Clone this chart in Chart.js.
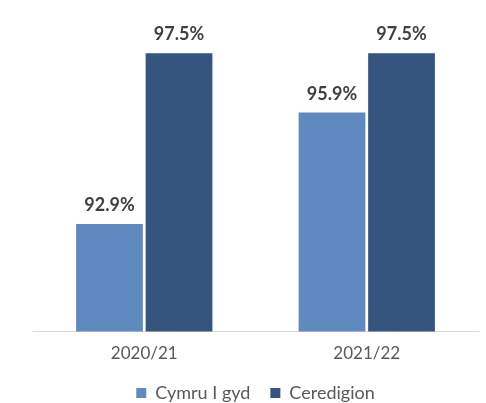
<!DOCTYPE html>
<html>
<head>
<meta charset="utf-8">
<script src="https://cdn.jsdelivr.net/npm/chart.js@4/dist/chart.umd.min.js"></script>
<style>
  html, body { margin: 0; padding: 0; background: #fff; }
  #wrap { width: 486px; height: 403px; position: relative; }
</style>
</head>
<body>
<div id="wrap"><canvas id="chart"></canvas></div>
<script>
// Cymru I gyd vs Ceredigion
const years      = ["2020/21", "2021/22"];
const cymru      = [92.9, 95.9];
const ceredigion = [97.5, 97.5];

const FONT = "Lato, 'Open Sans', sans-serif";

// draw the value above each bar
const valueLabels = {
  id: "valueLabels",
  afterDatasetsDraw(chart) {
    const ctx = chart.ctx;
    ctx.save();
    ctx.font = "bold 18px " + FONT;
    ctx.fillStyle = "#404040";
    ctx.textAlign = "center";
    ctx.textBaseline = "alphabetic";
    chart.data.datasets.forEach((ds, i) => {
      chart.getDatasetMeta(i).data.forEach((bar, j) => {
        ctx.fillText(ds.data[j].toFixed(1) + "%", bar.x, bar.y - 13);
      });
    });
    ctx.restore();
  }
};

// trim the legend box so it sits lower
const tightLegend = {
  id: "tightLegend",
  beforeInit(chart) {
    const fit = chart.legend.fit;
    chart.legend.fit = function () {
      fit.call(this);
      this.height -= 9;
    };
  }
};

new Chart(document.getElementById("chart"), {
  type: "bar",
  data: {
    labels: years,
    datasets: [
      { label: "Cymru I gyd", data: cymru, backgroundColor: "#5f8ac0" },
      { label: "Ceredigion",  data: ceredigion, backgroundColor: "#35557f" }
    ]
  },
  options: {
    responsive: true,
    maintainAspectRatio: false,
    animation: false,
    categoryPercentage: 0.625,
    barPercentage: 0.96,
    layout: { padding: { left: 33, right: 8, top: 16, bottom: 0 } },
    plugins: {
      tooltip: { enabled: false },
      legend: {
        position: "bottom",
        labels: {
          boxWidth: 10, boxHeight: 10, padding: 20,
          color: "#595959",
          font: { family: FONT, size: 18 }
        }
      }
    },
    scales: {
      y: { display: false, min: 90, max: 98.5 },
      x: {
        grid: { display: false },
        border: { color: "#d9d9d9", width: 1 },
        ticks: { color: "#595959", padding: 4, font: { family: FONT, size: 17 } },
        afterFit(scale) { scale.height -= 4; }
      }
    }
  },
  plugins: [valueLabels, tightLegend]
});
</script>
</body>
</html>
